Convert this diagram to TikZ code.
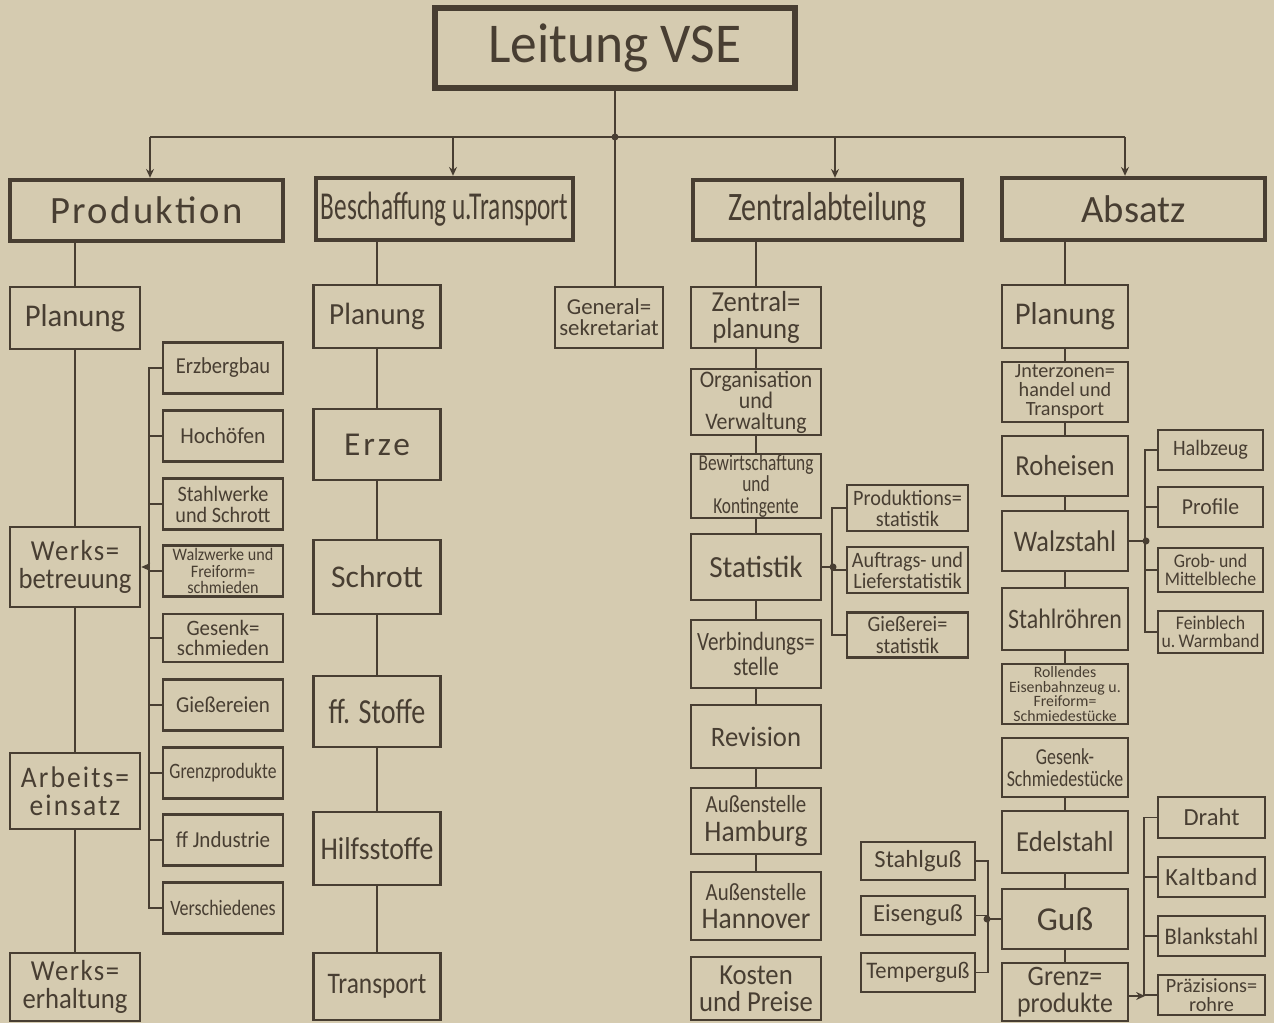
\documentclass[tikz,border=0pt]{standalone}
\usepackage{fontspec}
\setmainfont{Carlito}
\usetikzlibrary{arrows.meta}

\definecolor{paper}{RGB}{213,203,176}
\definecolor{ink}{RGB}{72,62,50}

\newcommand{\spc}[2]{{\addfontfeature{LetterSpace=#1}#2}}

\begin{document}
\begin{tikzpicture}[x=0.02cm, y=-0.02cm,
  txt/.style n args={3}{font=\fontsize{#1}{#2}\selectfont\addfontfeature{FakeStretch=#3}},
  wh/.style 2 args={minimum width=#1*0.02cm, minimum height=#2*0.02cm},
  box/.style={draw=ink, text=ink, line width=1.5pt, inner sep=0pt, align=center, txt={16.5}{15.5}{0.92}},
  head/.style={box, line width=2.5pt},
  sub/.style={box, line width=1.2pt, txt={12.5}{12}{0.92}},
  lnk/.style={draw=ink, line width=0.9pt},
  tip/.style={-{Stealth[length=5pt, width=4.5pt]}},
  dot/.style={circle, fill=ink, inner sep=0pt, minimum size=4pt}]

  \fill[paper] (0,0) rectangle (1274,1023);
  \useasboundingbox (0,0) rectangle (1274,1023);

  \node[head, line width=3pt, wh={360}{80}, txt={32}{34}{0.95}] (L) at (615,48) {Leitung VSE};

  \node[head, wh={273}{61}, txt={22}{24}{1}] (prod) at (146.5,210.5) {\spc{6}{Produktion}};
  \node[head, wh={257}{62}, txt={22.5}{24}{0.64}] (besch) at (444.5,209) {Beschaffung u.Transport};
  \node[head, wh={269}{60}, txt={23}{24}{0.74}] (zentr) at (827.5,210) {Zentralabteilung};
  \node[head, wh={263}{62}, txt={22}{24}{1}] (abs) at (1133.5,209) {Absatz};

  \node[box, wh={108}{61}, txt={13}{12}{1}] (gs) at (609,317.5) {General=\\sekretariat};

  % Produktion
  \node[box, wh={130}{62}, txt={18}{19}{0.97}] (p1) at (75,318) {Planung};
  \node[box, wh={130}{80}] (p2) at (75,567) {\spc{5}{Werks=}\\betreuung};
  \node[box, wh={130}{76}, txt={17}{16}{0.92}] (p3) at (75,791) {\spc{7}{Arbeits=}\\\spc{7}{einsatz}};
  \node[box, wh={130}{68}] (p4) at (75,987) {\spc{5}{Werks=}\\erhaltung};

  \node[sub, wh={120}{51}, txt={13}{14}{0.9}] (s1) at (223,368) {Erzbergbau};
  \node[sub, wh={120}{51}, txt={13}{14}{0.95}] (s2) at (223,436) {Hochöfen};
  \node[sub, wh={120}{51}] (s3) at (223,504) {Stahlwerke\\und Schrott};
  \node[sub, wh={120}{51}, txt={10}{9.5}{0.92}] (s4) at (223,571) {Walzwerke und\\Freiform=\\schmieden};
  \node[sub, wh={120}{48}, txt={12.5}{11.5}{0.95}] (s5) at (223,638) {Gesenk=\\schmieden};
  \node[sub, wh={120}{51}, txt={13}{14}{0.92}] (s6) at (223,705) {Gießereien};
  \node[sub, wh={120}{51}, txt={12.5}{13}{0.8}] (s7) at (223,773) {Grenzprodukte};
  \node[sub, wh={120}{51}, txt={13}{14}{0.92}] (s8) at (223,840) {ff Jndustrie};
  \node[sub, wh={120}{51}, txt={12.5}{13}{0.82}] (s9) at (223,908) {Verschiedenes};

  % Beschaffung
  \node[box, wh={127}{63}, txt={17.5}{19}{0.95}] (b1) at (377,316.5) {Planung};
  \node[box, wh={127}{71}, txt={19}{20}{1}] (b2) at (377,444.5) {\spc{9}{Erze}};
  \node[box, wh={127}{74}, txt={18}{20}{1}] (b3) at (377,577) {Schrott};
  \node[box, wh={127}{71}, txt={20}{21}{0.8}] (b4) at (377,711.5) {ff. Stoffe};
  \node[box, wh={127}{73}, txt={18}{19}{0.88}] (b5) at (377,848.5) {Hilfsstoffe};
  \node[box, wh={127}{67}, txt={17}{18}{0.85}] (b6) at (377,986.5) {Transport};

  % Zentralabteilung
  \node[box, wh={130}{61}] (z1) at (756,317.5) {Zentral=\\planung};
  \node[box, wh={130}{66}, txt={13.5}{12}{0.92}] (z2) at (756,402) {Organisation\\und\\Verwaltung};
  \node[box, wh={130}{64}, txt={13}{12}{0.76}] (z3) at (756,486) {Bewirtschaftung\\und\\Kontingente};
  \node[box, wh={130}{66}, txt={17.5}{20}{0.95}] (z4) at (756,567) {Statistik};
  \node[box, wh={130}{68}, txt={15}{14}{0.8}] (z5) at (756,654) {Verbindungs=\\stelle};
  \node[box, wh={130}{63}, txt={16}{18}{0.95}] (z6) at (756,736.5) {Revision};
  \node[box, wh={130}{66}, txt={17}{16}{0.92}] (z7) at (756,821) {{\fontsize{14}{14}\selectfont\addfontfeature{FakeStretch=0.85}Außenstelle}\\Hamburg};
  \node[box, wh={130}{68}, txt={17}{16}{0.92}] (z8) at (756,906) {{\fontsize{14}{14}\selectfont\addfontfeature{FakeStretch=0.85}Außenstelle}\\Hannover};
  \node[box, wh={130}{63}, txt={16.5}{15.5}{0.92}] (z9) at (756,988.5) {Kosten\\und Preise};

  \node[sub, wh={121}{46}] (t1) at (907.5,508) {Produktions=\\statistik};
  \node[sub, wh={121}{46}] (t2) at (907.5,570) {Auftrags- und\\Lieferstatistik};
  \node[sub, wh={121}{45}] (t3) at (907.5,635) {Gießerei=\\statistik};

  % Absatz
  \node[box, wh={126}{63}, txt={18}{19}{0.97}] (a1) at (1065,316.5) {Planung};
  \node[box, wh={126}{60}, txt={11.5}{10.8}{1}] (a2) at (1065,392) {Jnterzonen=\\handel und\\Transport};
  \node[box, wh={126}{60}] (a3) at (1065,466) {Roheisen};
  \node[box, wh={126}{60}, txt={17}{18}{0.88}] (a4) at (1065,541) {Walzstahl};
  \node[box, wh={126}{62}, txt={16}{17}{0.85}] (a5) at (1065,619) {Stahlröhren};
  \node[box, wh={126}{60}, txt={9}{8.4}{1}] (a6) at (1065,694) {Rollendes\\Eisenbahnzeug u.\\Freiform=\\Schmiedestücke};
  \node[box, wh={126}{59}, txt={13}{12.5}{0.78}] (a7) at (1065,767.5) {Gesenk-\\Schmiedestücke};
  \node[box, wh={126}{62}] (a8) at (1065,842) {Edelstahl};
  \node[box, wh={126}{60}, txt={19}{20}{1}] (a9) at (1065,919) {Guß};
  \node[box, wh={126}{58}, txt={16}{15}{0.92}] (a10) at (1065,992) {Grenz=\\produkte};

  \node[sub, wh={105}{40}] (w1) at (1210.5,450) {Halbzeug};
  \node[sub, wh={105}{40}, txt={13}{14}{0.95}] (w2) at (1210.5,507) {Profile};
  \node[sub, wh={105}{44}, txt={11}{10.5}{0.92}] (w3) at (1210.5,570) {Grob- und\\Mittelbleche};
  \node[sub, wh={105}{42}, txt={11}{10.5}{0.92}] (w4) at (1210.5,632) {Feinblech\\u.\,Warmband};

  \node[sub, wh={114}{38}, txt={14}{15}{1}] (g1) at (918,861) {Stahlguß};
  \node[sub, wh={114}{39}, txt={14}{15}{1}] (g2) at (918,915.5) {Eisenguß};
  \node[sub, wh={114}{39}, txt={13.5}{15}{0.95}] (g3) at (918,972.5) {Temperguß};

  \node[sub, wh={107}{41}, txt={14}{15}{1}] (r1) at (1211.5,817.5) {Draht};
  \node[sub, wh={107}{40}, txt={14}{15}{1}] (r2) at (1211.5,877) {\spc{2}{Kaltband}};
  \node[sub, wh={107}{40}, txt={13.5}{15}{0.95}] (r3) at (1211.5,936) {Blankstahl};
  \node[sub, wh={107}{40}, txt={11.5}{11}{1}] (r4) at (1211.5,995) {Präzisions=\\rohre};

  % top level
  \coordinate (hub) at (615,137);
  \coordinate (hp) at (150,137);
  \coordinate (hb) at (453,137);
  \coordinate (hz) at (835,137);
  \coordinate (ha) at (1125,137);
  \draw[lnk] (L.south) -- (L.south |- gs.north);
  \draw[lnk] (hp) -- (ha);
  \foreach \c/\n in {hp/prod, hb/besch, hz/zentr, ha/abs}
    \draw[lnk, tip] (\c) -- (\c |- \n.north);
  \node[dot] at (hub) {};

  % columns
  \draw[lnk] (prod.south -| p1) -- (p1) -- (p2) -- (p3) -- (p4);
  \draw[lnk] (besch.south -| b1) -- (b1) -- (b2) -- (b3) -- (b4) -- (b5) -- (b6);
  \draw[lnk] (zentr.south -| z1) -- (z1) -- (z2) -- (z3) -- (z4) -- (z5) -- (z6) -- (z7) -- (z8);
  \draw[lnk] (abs.south -| a1) -- (a1) -- (a2) -- (a3) -- (a4) -- (a5) -- (a6);
  \draw[lnk] (a7) -- (a8) -- (a9) -- (a10);

  % brackets
  \draw[lnk] (s1.west) -- ++(-13,0) |- (s9.west);
  \foreach \s in {s2,s3,s4,s5,s6,s7,s8} \draw[lnk] (\s.west) -- ++(-13,0);
  \draw[lnk, tip] (150,567) -- (p2.east |- 150,567);

  \draw[lnk] (t1.west) -- ++(-14,0) |- (t3.west);
  \draw[lnk] (t2.west) -- ++(-14,0);
  \draw[lnk] (z4.east) -- (833,567);
  \node[dot] at (833,567) {};

  \draw[lnk] (w1.west) -- ++(-12,0) |- (w4.west);
  \foreach \s in {w2,w3} \draw[lnk] (\s.west) -- ++(-12,0);
  \draw[lnk] (a4.east) -- (1146,541);
  \node[dot] at (1146,541) {};

  \draw[lnk] (g1.east) -- ++(12,0) |- (g3.east);
  \draw[lnk] (g2.east) -- ++(12,0);
  \draw[lnk] (987,919) -- (a9.west |- 987,919);
  \node[dot] at (987,919) {};

  \draw[lnk] (r1.west) -- ++(-13,0) |- (r4.west);
  \foreach \s in {r2,r3} \draw[lnk] (\s.west) -- ++(-13,0);
  \draw[lnk, tip] (a10.east |- 1145,996) -- (1145,996);
\end{tikzpicture}
\end{document}
